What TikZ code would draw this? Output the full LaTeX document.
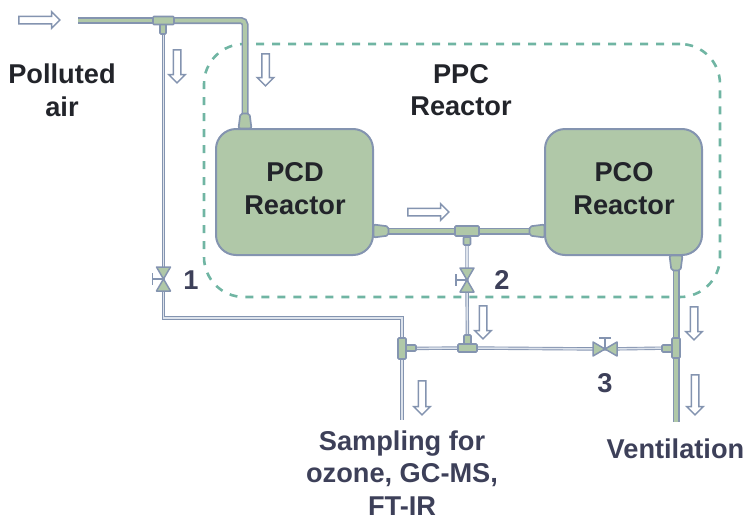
\documentclass[tikz,border=0pt]{standalone}
\usepackage{fontspec}
\setmainfont{Liberation Sans}
\usetikzlibrary{shapes.geometric,shapes.arrows}
\definecolor{pipeline}{HTML}{8494B0}
\definecolor{pipefill}{HTML}{B0C8A8}
\definecolor{pipethin}{HTML}{DDE3EC}
\definecolor{zoneline}{HTML}{70B5A3}
\definecolor{labeldark}{HTML}{22242A}
\definecolor{labelblue}{HTML}{3D4059}
\tikzset{
  reactor/.style={draw=pipeline, fill=pipefill, line width=2pt, rounded corners=20pt, minimum width=157pt, minimum height=126pt, inner sep=0pt},
  fitting/.style={draw=pipeline, fill=pipefill, line width=1.7pt, rounded corners=1pt, inner sep=0pt},
  nozzle/.style={draw=pipeline, fill=pipefill, line width=1.7pt, shape=trapezium, trapezium stretches=true, trapezium left angle=78, trapezium right angle=78, rounded corners=2pt, inner sep=0.5pt, minimum width=13pt, minimum height=15pt},
  thickpipe/.style={draw=pipeline, line width=1.7pt, double=pipefill, double distance=3.6pt},
  thinpipe/.style={draw=pipeline, line width=0.9pt, double=pipethin, double distance=1.6pt},
  flowarrow/.style={draw=pipeline, fill=white, line width=1.5pt, shape=single arrow, single arrow head extend=4.5pt, single arrow head indent=0pt, minimum width=15pt, inner sep=3pt},
  caption/.style={font=\bfseries\fontsize{27.2}{32.5}\selectfont, text=#1, align=center, inner sep=0pt},
  caption/.default=labelblue,
  valve/.pic={
    \draw[pipeline, line width=1.5pt] (0,0) -- (-11,0) (-11,-6) -- (-11,6);
    \draw[pipeline, fill=pipefill, line width=1.5pt, line join=round] (0,0) -- (-7,-12) -- (7,-12) -- cycle;
    \draw[pipeline, fill=pipefill, line width=1.5pt, line join=round] (0,0) -- (-7,12) -- (7,12) -- cycle;
  },
}
\begin{document}
\begin{tikzpicture}[x=1pt,y=-1pt]
\useasboundingbox (0,0) rectangle (745,517);

% PPC zone
\node[draw=zoneline, line width=2.6pt, dash pattern=on 8pt off 8pt, rounded corners=40pt, minimum width=516pt, minimum height=253pt, inner sep=0pt] (ppc) at (462,170.5) {};

% Thick pipes sit under the fittings
\coordinate (inlet) at (78,20.5);
\coordinate (bend) at (245,20.5);
\coordinate (hubA) at (163.5,20.5);
\coordinate (hubB) at (467,231);
\coordinate (hubE) at (676,348);
\coordinate (vent) at (676,422);
\coordinate (valveA) at (163.5,279);
\coordinate (valveB) at (467,280);
\coordinate (valveC) at (605,349);
\coordinate (elbow) at (163.5,318);
\coordinate (elbowB) at (402,318);
\coordinate (hubC) at (402,348.5);
\coordinate (sample) at (402,420);
\coordinate (hubD) at (467.5,348);

\draw[thickpipe] (inlet) -- (hubA);
\draw[thickpipe, rounded corners=4pt] (hubA) -- (bend) -- (245,121);
\draw[thickpipe] (381,231) -- (537,231);
\draw[thickpipe] (676,263) -- (vent);

% Thin pipes
\draw[thinpipe] (hubA) -- (valveA) -- (elbow) -- (elbowB) -- (sample);
\draw[thinpipe] (hubB) -- (valveB) -- (hubD);
\draw[thinpipe] (hubC) -- (hubD) -- (valveC) -- (hubE);

% Reactors
\node[reactor] (pcd) at (294.5,192) {};
\node[reactor] (pco) at (623.5,192) {};

% Fittings
\node[fitting, minimum width=6pt, minimum height=10pt] (stemA) at (163,29) {};
\node[fitting, minimum width=21pt, minimum height=8pt] (teeA) at (hubA) {};
\node[nozzle] (nozA) at (245,121) {};
\node[nozzle, rotate=-90] (nozB) at (381,231) {};
\node[nozzle, rotate=90] (nozC) at (537,231) {};
\node[nozzle, rotate=180] (nozD) at (676,263) {};
\node[fitting, minimum width=7pt, minimum height=8pt] (stemB) at (467,241) {};
\node[fitting, minimum width=24pt, minimum height=10pt] (teeB) at (hubB) {};
\node[fitting, minimum width=10pt, minimum height=6pt] (stemC) at (411,348) {};
\node[fitting, minimum width=8pt, minimum height=21pt] (teeC) at (hubC) {};
\node[fitting, minimum width=7pt, minimum height=9pt] (stemD) at (467.5,339.5) {};
\node[fitting, minimum width=19pt, minimum height=8pt] (teeD) at (hubD) {};
\node[fitting, minimum width=10pt, minimum height=7pt] (stemE) at (667,348.5) {};
\node[fitting, minimum width=8pt, minimum height=20pt] (teeE) at (hubE) {};

% Valves
\pic at (valveA) {valve};
\pic at (valveB) {valve};
\pic[rotate=-90] at (valveC) {valve};

% Flow arrows
\node[flowarrow, minimum height=41pt] (flowA) at (37.5,20) {};
\node[flowarrow, minimum height=33pt, rotate=-90] (flowB) at (177,64.5) {};
\node[flowarrow, minimum height=32pt, rotate=-90] (flowC) at (265.5,68) {};
\node[flowarrow, minimum height=41pt] (flowD) at (426.5,212) {};
\node[flowarrow, minimum height=33pt, rotate=-90] (flowE) at (483,320.5) {};
\node[flowarrow, minimum height=34pt, rotate=-90] (flowF) at (422,396) {};
\node[flowarrow, minimum height=33pt, rotate=-90] (flowG) at (694,321.5) {};
\node[flowarrow, minimum height=40pt, rotate=-90] (flowH) at (695,393) {};

% Labels
\node[caption=labeldark] (polluted) at (62,90.5) {Polluted\\air};
\node[caption=labeldark] (ppclabel) at (461,90) {PPC\\Reactor};
\node[caption=labeldark] (pcdlabel) at (295,188.5) {PCD\\Reactor};
\node[caption=labeldark] (pcolabel) at (624,188.5) {PCO\\Reactor};
\node[caption] (numA) at (191,280) {1};
\node[caption] (numB) at (502,280) {2};
\node[caption] (numC) at (605,383) {3};
\node[caption] (sampling) at (402,473) {Sampling for\\ozone, GC-MS,\\FT-IR};
\node[caption] (ventilation) at (675.5,449) {Ventilation};
\end{tikzpicture}
\end{document}
